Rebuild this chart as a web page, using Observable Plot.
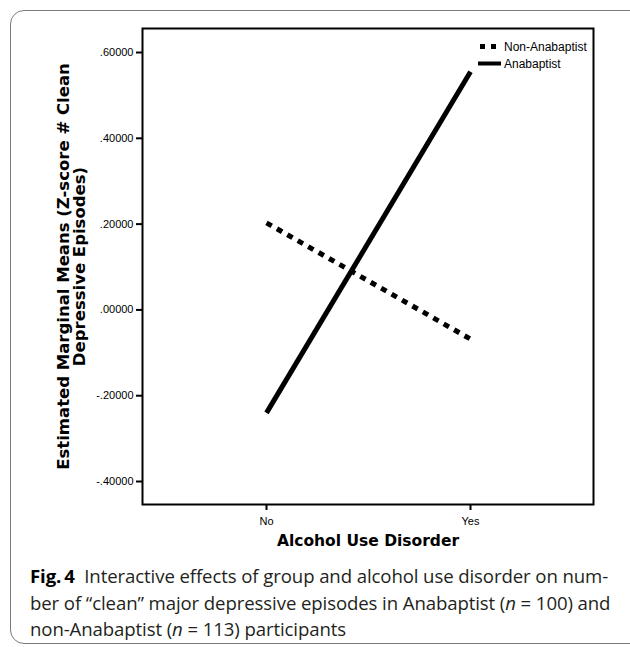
<!DOCTYPE html>
<html>
<head>
<meta charset="utf-8">
<script src="https://cdn.jsdelivr.net/npm/d3@7"></script>
<script src="https://cdn.jsdelivr.net/npm/@observablehq/plot@0.6"></script>
<style>
  html, body { margin: 0; padding: 0; background: #fff; overflow: hidden; }
  #wrap { position: relative; width: 630px; height: 647px; overflow: hidden; }
  #border { position: absolute; left: 10px; top: 10px; width: 660px; height: 634px;
            border: 1px solid #7a7a7a; border-radius: 14px; box-sizing: border-box; }
  #chart { position: absolute; left: 0; top: 0; }
  #legend { position: absolute; left: 477px; top: 38px; font: 12px "Liberation Sans", Arial, sans-serif; color: #000; }
  #legend .row { display: flex; align-items: center; height: 17px; }
  #legend svg { margin-right: 3px; }
  #caption { position: absolute; left: 30px; top: 563px; font-family: "Open Sans", sans-serif; font-size: 18.6px;
             line-height: 26.5px; color: #231f20; white-space: nowrap; letter-spacing: -0.1px; }
  #caption b { color: #000; }
</style>
</head>
<body>
<div id="wrap">
  <div id="border"></div>
  <div id="chart"></div>
  <div id="legend"></div>
  <div id="caption"><b>Fig.&#8201;4</b>&nbsp;&nbsp;Interactive effects of group and alcohol use disorder on num-<br>ber of “clean” major depressive episodes in Anabaptist (<i>n</i> = 100) and<br>non-Anabaptist (<i>n</i> = 113) participants</div>
</div>
<script>
// ---- data ----
const categories = ["No", "Yes"];
const groups = ["Non-Anabaptist", "Anabaptist"];
const nonAnabaptist = [0.203, -0.068];
const anabaptist = [-0.240, 0.555];
const yTicks = [-0.4, -0.2, 0, 0.2, 0.4, 0.6];
const xTitle = "Alcohol Use Disorder";
const yTitle = "Estimated Marginal Means (Z-score # Clean\nDepressive Episodes)";

const rows = [];
categories.forEach((c, i) => {
  rows.push({aud: c, group: groups[0], value: nonAnabaptist[i]});
  rows.push({aud: c, group: groups[1], value: anabaptist[i]});
});

const fmt = d => d3.format(".5f")(d).replace("−", "-").replace(/^(-?)0\./, "$1.");

const chart = Plot.plot({
  width: 630,
  height: 560,
  marginLeft: 142,
  marginRight: 37,
  marginTop: 28,
  marginBottom: 56,
  style: {fontFamily: "'Liberation Sans', Arial, sans-serif", color: "#000", background: "transparent"},
  x: {type: "point", domain: categories, padding: 0.605},
  y: {domain: [-0.4536, 0.656]},
  marks: [
    Plot.axisY({ticks: yTicks, tickSize: 6, tickPadding: 3, tickFormat: fmt, fontSize: 11, strokeWidth: 2, label: null}),
    Plot.axisX({tickSize: 6, tickPadding: 7, fontSize: 11, strokeWidth: 2, label: null}),
    Plot.line(rows.filter(d => d.group === groups[1]), {x: "aud", y: "value", stroke: "#000", strokeWidth: 5, strokeLinecap: "butt"}),
    Plot.line(rows.filter(d => d.group === groups[0]), {x: "aud", y: "value", stroke: "#000", strokeWidth: 5, strokeDasharray: "6,6", strokeLinecap: "butt"}),
    Plot.frame({stroke: "#000", strokeWidth: 2}),
    Plot.text([xTitle], {frameAnchor: "bottom", dy: 41, text: d => d, fontSize: 15.5, fontWeight: "bold", fontFamily: "'DejaVu Sans', sans-serif", fill: "#000"}),
    Plot.text([yTitle], {frameAnchor: "left", textAnchor: "middle", dx: -71, rotate: -90, text: d => d, fontSize: 16.5, lineHeight: 0.98, fontWeight: "bold", fontFamily: "'DejaVu Sans', sans-serif", fill: "#000"})
  ]
});
document.getElementById("chart").appendChild(chart);

// legend
const legend = document.getElementById("legend");
groups.forEach((g, i) => {
  const row = document.createElement("div");
  row.className = "row";
  const line = i === 0
    ? `<line x1="3" x2="19" y1="8.5" y2="8.5" stroke="#000" stroke-width="5" stroke-dasharray="5,6"/>`
    : `<line x1="1" x2="24" y1="8.5" y2="8.5" stroke="#000" stroke-width="4"/>`;
  row.innerHTML = `<svg width="24" height="17">${line}</svg><span>${g}</span>`;
  legend.appendChild(row);
});
</script>
</body>
</html>
